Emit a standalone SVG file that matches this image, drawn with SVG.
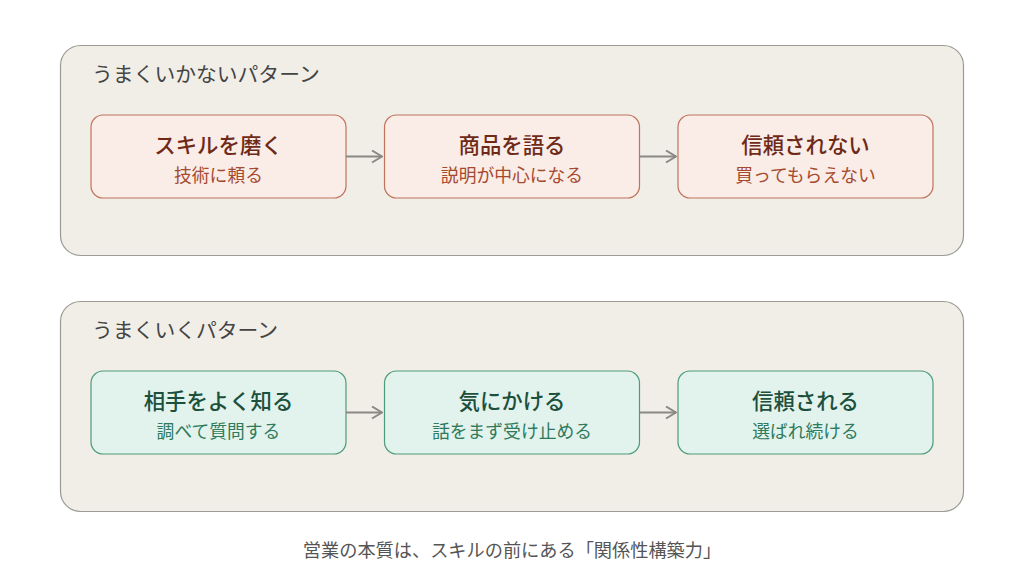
<svg xmlns="http://www.w3.org/2000/svg" width="1024" height="587" viewBox="0 0 1024 587">
<defs>
<style>
text{font-family:"Noto Sans CJK JP","Noto Sans",sans-serif;}
.panel{fill:#f1eee8;stroke:#9c9a95;stroke-width:1.2;}
.ptitle{font-size:20.8px;fill:#444;}
.bad rect{fill:#faece7;stroke:#c0735a;stroke-width:1.2;}
.bad .t{fill:#6e2a17;font-size:21.4px;font-weight:500;}
.bad .s{fill:#a44a2e;font-size:17.8px;}
.good rect{fill:#e1f3ec;stroke:#4e9b7b;stroke-width:1.2;}
.good .t{fill:#1c4f3c;font-size:21.4px;font-weight:500;}
.good .s{fill:#2f7a5d;font-size:17.8px;}
.conn line{stroke:#8a8884;stroke-width:2;marker-end:url(#ah);}
.foot{font-size:18.2px;fill:#555;}
</style>
<marker id="ah" viewBox="0 0 12 14" refX="11" refY="7" markerWidth="12" markerHeight="14" markerUnits="userSpaceOnUse" orient="auto"><path d="M1,1 L11,7 L1,13" fill="none" stroke="#8a8884" stroke-width="2"/></marker>
</defs>
<rect width="1024" height="587" fill="#ffffff"/>
<g id="panel-bad">
<rect class="panel" x="60.5" y="45.5" width="903" height="210" rx="20"/>
<text class="ptitle" x="92" y="82">うまくいかないパターン</text>
</g>
<g id="panel-good">
<rect class="panel" x="60.5" y="301.5" width="903" height="210" rx="20"/>
<text class="ptitle" x="92" y="338">うまくいくパターン</text>
</g>
<g id="node-skill" class="bad">
<rect x="91" y="115" width="255" height="83" rx="12"/>
<text class="t" x="218.5" y="153" text-anchor="middle">スキルを磨く</text>
<text class="s" x="218.5" y="182" text-anchor="middle">技術に頼る</text>
</g>
<g id="node-product" class="bad">
<rect x="384.5" y="115" width="255" height="83" rx="12"/>
<text class="t" x="512" y="153" text-anchor="middle">商品を語る</text>
<text class="s" x="512" y="182" text-anchor="middle">説明が中心になる</text>
</g>
<g id="node-notrust" class="bad">
<rect x="678" y="115" width="255" height="83" rx="12"/>
<text class="t" x="805.5" y="153" text-anchor="middle">信頼されない</text>
<text class="s" x="805.5" y="182" text-anchor="middle">買ってもらえない</text>
</g>
<g id="node-know" class="good">
<rect x="91" y="371" width="255" height="83" rx="12"/>
<text class="t" x="218.5" y="409" text-anchor="middle">相手をよく知る</text>
<text class="s" x="218.5" y="438" text-anchor="middle">調べて質問する</text>
</g>
<g id="node-care" class="good">
<rect x="384.5" y="371" width="255" height="83" rx="12"/>
<text class="t" x="512" y="409" text-anchor="middle">気にかける</text>
<text class="s" x="512" y="438" text-anchor="middle">話をまず受け止める</text>
</g>
<g id="node-trust" class="good">
<rect x="678" y="371" width="255" height="83" rx="12"/>
<text class="t" x="805.5" y="409" text-anchor="middle">信頼される</text>
<text class="s" x="805.5" y="438" text-anchor="middle">選ばれ続ける</text>
</g>
<g id="connectors" class="conn">
<line x1="346" y1="156.5" x2="382" y2="156.5"/>
<line x1="639.5" y1="156.5" x2="676" y2="156.5"/>
<line x1="346" y1="412.5" x2="382" y2="412.5"/>
<line x1="639.5" y1="412.5" x2="676" y2="412.5"/>
</g>
<text id="footer" class="foot" x="512" y="557" text-anchor="middle">営業の本質は、スキルの前にある「関係性構築力」</text>
</svg>
